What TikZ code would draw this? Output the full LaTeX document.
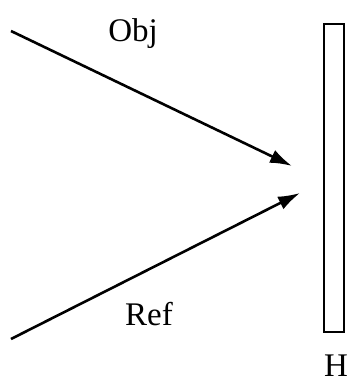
\documentclass[tikz,border=0pt]{standalone}
\usepackage{fontspec}
\setmainfont{Liberation Serif}
\usetikzlibrary{arrows.meta}

\begin{document}
\begin{tikzpicture}[
  x=1pt, y=-1pt,
  >={Latex[length=22pt,width=14pt]},
  beam/.style={->, line width=2.6pt},
  plate/.style={draw, line width=2.4pt, minimum width=20pt,
                minimum height=308pt, inner sep=0pt},
  lbl/.style={anchor=base, inner sep=0pt,
              font=\fontsize{33}{36}\selectfont},
]
\useasboundingbox (0,0) rectangle (350,382);
% hologram plate
\node[plate] (holo) at (334,178) {};
% beams
\coordinate (objsrc) at (11,31);
\coordinate (objtip) at (292,166);
\coordinate (refsrc) at (11,339);
\coordinate (reftip) at (300,193);
\draw[beam] (objsrc) -- (objtip);
\draw[beam] (refsrc) -- (reftip);
% labels
\node[lbl] (obj) at (133,42) {Obj};
\node[lbl] (ref) at (149,325) {Ref};
\node[lbl] (h) at (336,376) {H};
\end{tikzpicture}
\end{document}
